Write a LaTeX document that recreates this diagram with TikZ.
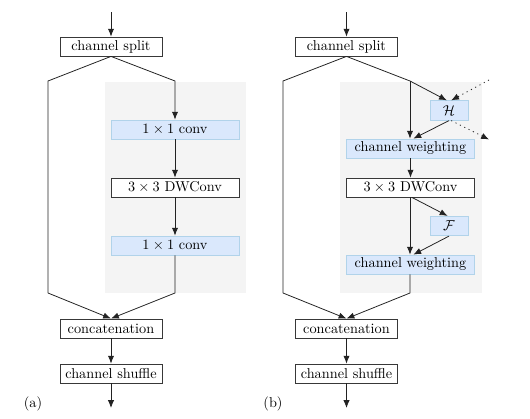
\documentclass[tikz,border=0pt]{standalone}
\usetikzlibrary{arrows.meta}
\definecolor{bluefill}{HTML}{DAE8FC}
\definecolor{blueline}{HTML}{B1D3EA}
\definecolor{bggray}{HTML}{F4F4F4}
\definecolor{linecol}{HTML}{222222}
\tikzset{
  box/.style={draw=linecol!90,line width=0.55pt,fill=white,inner sep=1pt,minimum width=71.4pt,minimum height=13.3pt},
  widebox/.style={box,minimum width=89.6pt},
  bluebox/.style={widebox,fill=bluefill,draw=blueline},
  smallbox/.style={box,fill=bluefill,draw=blueline,minimum width=26.6pt,minimum height=13.6pt},
  conn/.style={draw=linecol,line width=0.55pt},
  arr/.style={conn,-{Latex[length=5.5pt,width=4.4pt]}},
  dotarr/.style={arr,dash pattern=on 0.8pt off 2.6pt},
}
\begin{document}
\begin{tikzpicture}[x=0.7pt,y=-0.7pt]
\useasboundingbox (0,0) rectangle (530,418);
% backgrounds
\fill[bggray] (105,82) rectangle (246,293);
\fill[bggray] (340,82) rectangle (482,293);
% ---------- (a) ----------
\coordinate (ain) at (111,12);
\node[box] (asplit) at (111,46.5) {channel split};
\coordinate (al) at (48,81);
\coordinate (ar) at (175,81);
\node[bluebox] (ac1) at (175,129.5) {$1\times1$ conv};
\node[widebox] (adw) at (175,187.5) {$3\times3$ DWConv};
\node[bluebox] (ac2) at (175,245.5) {$1\times1$ conv};
\coordinate (alb) at (48,293);
\coordinate (arb) at (175,293);
\node[box] (acat) at (111,328.5) {concatenation};
\node[box] (ashuf) at (111,373.5) {channel shuffle};
\coordinate (aout) at (111,408);
\node (alab) at (33,404) {(a)};
\draw[arr] (ain) -- (asplit);
\draw[conn] (asplit.south) -- (al) -- (alb);
\draw[arr] (asplit.south) -- (ar) -- (ac1);
\draw[arr] (ac1) -- (adw);
\draw[arr] (adw) -- (ac2);
\draw[arr] (alb) -- (acat.north);
\draw[arr] (ac2) -- (arb) -- (acat.north);
\draw[arr] (acat) -- (ashuf);
\draw[arr] (ashuf) -- (aout);
% ---------- (b) ----------
\coordinate (bin) at (346.5,12);
\node[box] (bsplit) at (346.5,46.5) {channel split};
\coordinate (bl) at (283,81);
\coordinate (br) at (410,81);
\node[smallbox] (bH) at (449,110.5) {$\mathcal{H}$};
\node[bluebox] (bcw1) at (410.5,148.5) {channel weighting};
\node[widebox] (bdw) at (410.5,187.5) {$3\times3$ DWConv};
\node[smallbox] (bF) at (449,226) {$\mathcal{F}$};
\node[bluebox] (bcw2) at (410.5,264.5) {channel weighting};
\coordinate (blb) at (283,293);
\coordinate (brb) at (410,293);
\node[box] (bcat) at (346.5,328.5) {concatenation};
\node[box] (bshuf) at (346.5,373.5) {channel shuffle};
\coordinate (bout) at (346.5,408);
\node (blab) at (273,404) {(b)};
\coordinate (bdin) at (489,80);
\coordinate (bdout) at (489,139.5);
\draw[arr] (bin) -- (bsplit);
\draw[conn] (bsplit.south) -- (bl) -- (blb);
\draw[arr] (bsplit.south) -- (br) -- ([xshift=-1.5pt]bH.north);
\draw[arr] (br) -- (br |- bcw1.north);
\draw[dotarr] (bdin) -- ([xshift=1.5pt]bH.north);
\draw[dotarr] ([xshift=1.5pt]bH.south) -- (bdout);
\draw[arr] (bH.south) -- ([xshift=2pt]bcw1.north);
\draw[arr] (bcw1) -- (bdw);
\draw[arr] ([xshift=1pt]bdw.south) -- ([xshift=-1pt]bF.north);
\draw[arr] (bdw.south -| brb) -- (brb |- bcw2.north);
\draw[arr] (bF.south) -- ([xshift=2pt]bcw2.north);
\draw[arr] (blb) -- (bcat.north);
\draw[arr] (bcw2.south -| brb) -- (brb) -- (bcat.north);
\draw[arr] (bcat) -- (bshuf);
\draw[arr] (bshuf) -- (bout);
\end{tikzpicture}
\end{document}
